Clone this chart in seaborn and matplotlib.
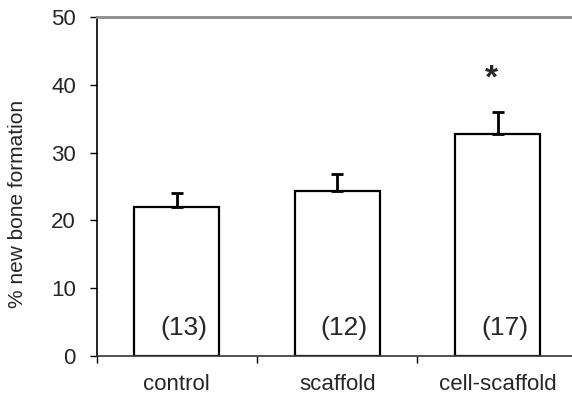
import matplotlib
matplotlib.use("Agg")
import matplotlib.pyplot as plt
import seaborn as sns
import pandas as pd

# data
groups = ["control", "scaffold", "cell-scaffold"]
bone_pct = [22.0, 24.4, 32.7]
err_up = [2.1, 2.4, 3.3]
n_labels = ["(13)", "(12)", "(17)"]
star_group = "cell-scaffold"

sns.set_style("white")
plt.rcParams["font.family"] = ["Liberation Sans", "DejaVu Sans"]

df = pd.DataFrame({"group": groups, "pct": bone_pct})

fig = plt.figure(figsize=(5.72, 4.03), dpi=100)
ax = fig.add_axes([96.7 / 572, 47 / 403, 481 / 572, 339 / 403])

sns.barplot(data=df, x="group", y="pct", order=groups, color="white",
            edgecolor="black", linewidth=1.6, width=0.53, errorbar=None, ax=ax)

# upper-only error bars
xs = list(range(len(groups)))
ax.errorbar(xs, bone_pct, yerr=[[0] * len(groups), err_up], fmt="none",
            ecolor="black", elinewidth=2, capsize=4.5, capthick=2, zorder=3)

for x, lab in zip(xs, n_labels):
    ax.text(x + 0.045, 4.2, lab, ha="center", va="center", fontsize=19)

si = groups.index(star_group)
ax.text(si - 0.04, 40.8, "*", ha="center", va="center", fontsize=24, fontweight="bold")

ax.set_ylim(0, 50)
ax.set_xlim(-0.5, 2.5)
ax.set_yticks(range(0, 51, 10))
ax.set_xticks(xs)
ax.set_xticklabels(groups)
ax.set_xticks([-0.5, 0.5, 1.5, 2.5], minor=True)
ax.tick_params(axis="x", which="major", length=0, pad=13, labelsize=16)
ax.tick_params(axis="x", which="minor", length=5, width=1, color="black", direction="out", bottom=True)
ax.tick_params(axis="y", length=5, width=1, color="black", direction="out", left=True, pad=10, labelsize=16)
ax.set_xlabel("")
ax.set_ylabel("% new bone formation", fontsize=15)
ax.yaxis.set_label_coords(-0.145, 0.45)

ax.spines["right"].set_visible(False)
ax.spines["top"].set_color("#8c8c8c")
ax.spines["top"].set_linewidth(2)
ax.spines["left"].set_color("black")
ax.spines["left"].set_linewidth(1.2)
ax.spines["bottom"].set_color("#333333")
ax.spines["bottom"].set_linewidth(1.2)

fig.savefig("out.png", dpi=100)
